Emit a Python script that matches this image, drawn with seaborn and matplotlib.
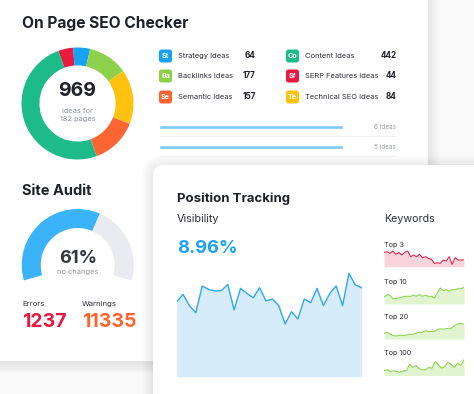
import numpy as np
import matplotlib
matplotlib.use("Agg")
import matplotlib.pyplot as plt
from matplotlib.patches import FancyBboxPatch
import seaborn as sns

W, H = 474, 394

# ring of the SEO checker donut, clockwise from the red slice (share of arc)
ring_names = ["SERP Features", "Strategy", "Backlinks", "Technical SEO", "Semantic", "Content"]
ring_share = [4.3, 4.9, 11.5, 15.8, 13.5, 50.0]
ring_colors = ["#E9193F", "#18A2F4", "#8DD04A", "#FFC20E", "#FF6533", "#1DBA8A"]
total_ideas = 969
total_pages = 182

# legend table
left_labels = ["Strategy Ideas", "Backlinks Ideas", "Semantic Ideas"]
left_abbr = ["St", "Ba", "Se"]
left_counts = [64, 177, 157]
left_colors = ["#18A2F4", "#8DD04A", "#FF6533"]
right_labels = ["Content Ideas", "SERP Features Ideas", "Technical SEO Ideas"]
right_abbr = ["Co", "Sf", "Te"]
right_counts = [442, 44, 84]
right_colors = ["#1DBA8A", "#E9193F", "#FFC20E"]

idea_bar_labels = ["6 Ideas", "5 Ideas"]
idea_bar_fill = [77.6, 77.6]

# site audit
audit_pct = 61
audit_errors = 1237
audit_warnings = 11335

# position tracking
visibility_pct = "8.96%"
visibility = [75, 82.3, 71, 64, 90.7, 87.3, 85.7, 86, 92.3, 66.7, 88.3, 83.3, 79, 89, 75.7,
              77.7, 71, 52.7, 65, 57.7, 77.7, 74, 88.3, 71, 83.3, 90.7, 71, 103.3, 91.7, 89]

kw_labels = ["Top 3", "Top 10", "Top 20", "Top 100"]
kw_top3 = [14.3, 15, 13.3, 15.7, 12.3, 14.3, 11.7, 14.3, 15.7, 10, 11.7, 10, 12.3, 9,
           10, 8.3, 7.3, 3.3, 4, 3.3, 6.7, 5.7, 10, 2.3, 9, 6.7, 6.7, 6.7]
kw_top10 = [6.7, 9.3, 8.7, 5.3, 5.3, 6, 6.7, 7.7, 7.7, 7.7, 8.7, 7.7, 9.3, 7.7,
            8.7, 7.7, 7.7, 6, 11, 16, 13.3, 14.3, 12.7, 14.3, 14.3, 15.3, 15.3, 16.7]
kw_top20 = [5.7, 6.7, 4.7, 3.3, 3, 4, 3.3, 4, 4.7, 4.7, 5.7, 6.7, 6.7,
            8.3, 7.3, 7.3, 8, 10, 10, 10, 10.7, 10.7, 13.3, 15, 15.7, 14.7]
kw_top100 = [5, 5.7, 4, 4.7, 4, 3.3, 4.7, 4.7, 11.3, 8, 10, 6.7, 5.7,
             5.7, 8, 7.3, 14, 10.7, 7.3, 9, 13.3, 11.3, 8, 12.3, 10, 15.7]

sns.set_theme(style="white")
plt.rcParams["font.family"] = ["Inter", "DejaVu Sans"]

DARK = "#1F2129"
GREY = "#8E939C"


def px_axes(fig, x0, y0, x1, y1):
    ax = fig.add_axes([x0 / W, 1 - y1 / H, (x1 - x0) / W, (y1 - y0) / H])
    ax.axis("off")
    return ax


def card(ax, x, y, w, h, r=10, z=1):
    # soft shadow made of stacked translucent boxes
    for i in range(7, 0, -1):
        g = i * 1.6
        ax.add_patch(FancyBboxPatch((x - g, y - g + 1.5), w + 2 * g, h + 2 * g,
                                    boxstyle=f"round,pad=0,rounding_size={r + g}",
                                    fc="black", ec="none", alpha=0.012, zorder=z))
    ax.add_patch(FancyBboxPatch((x, y), w, h, boxstyle=f"round,pad=0,rounding_size={r}",
                                fc="white", ec="none", zorder=z + 0.5))


fig = plt.figure(figsize=(W / 100, H / 100), dpi=100, facecolor="#FAFAFB")
bg = fig.add_axes([0, 0, 1, 1])
bg.set_xlim(0, W)
bg.set_ylim(H, 0)
bg.axis("off")

card(bg, -30, -30, 458, 391, z=1)
card(bg, 153, 165, 360, 260, z=3)

# ---- On Page SEO Checker ----
bg.text(22, 28, "On Page SEO Checker", fontsize=11.2, fontweight="bold", color=DARK, zorder=5)

dax = px_axes(fig, 21.5, 47.5, 133.5, 159.5)
dax.pie(ring_share, colors=ring_colors, startangle=110, counterclock=False,
        wedgeprops=dict(width=0.32, edgecolor="none"))
dax.set_xlim(-1, 1)
dax.set_ylim(-1, 1)
dax.set_aspect("equal")
dax.text(0, 0.13, str(total_ideas), ha="center", va="baseline", fontsize=14,
         fontweight="bold", color=DARK)
dax.text(0, -0.17, "ideas for", ha="center", va="baseline", fontsize=5.3, color=GREY)
dax.text(0, -0.31, f"{total_pages} pages", ha="center", va="baseline", fontsize=5.3, color=GREY)

rows_y = [56, 76, 97]
for col in [(159, 255.7, left_labels, left_abbr, left_counts, left_colors),
            (286, 396.5, right_labels, right_abbr, right_counts, right_colors)]:
    x0, xn, labels, abbr, counts, colors = col
    for yc, lab, ab, n, c in zip(rows_y, labels, abbr, counts, colors):
        bg.add_patch(FancyBboxPatch((x0, yc - 6.5), 13, 13,
                                    boxstyle="round,pad=0,rounding_size=2.5",
                                    fc=c, ec="none", zorder=5))
        bg.text(x0 + 6.5, yc + 0.3, ab, ha="center", va="center", fontsize=5.2,
                fontweight="bold", color="white", zorder=6)
        bg.text(x0 + 19.5, yc + 2.2, lab, fontsize=5.4, color="#2B2E36", zorder=5)
        bg.text(xn, yc + 2.2, str(n), ha="right", fontsize=5.9, fontweight="bold",
                color=DARK, zorder=5)

bax = px_axes(fig, 159, 116.7, 396, 156.7)
sns.barplot(x=idea_bar_fill, y=idea_bar_labels, orient="h", width=0.2,
            color="#7CC9FA", saturation=1, ax=bax)
bax.set_xlim(0, 100)
bax.set_ylim(1.5, -0.5)
bax.axis("off")
for yb, lab in zip([126.7, 146.7], idea_bar_labels):
    bg.text(396, yb, lab, ha="right", va="center", fontsize=4.6, color="#9A9FA8", zorder=5)
    bg.plot([159, 396], [yb + 9.5, yb + 9.5], color="#EEEFF2", lw=0.6, zorder=5)

# ---- Site Audit ----
bg.text(22, 195, "Site Audit", fontsize=10.5, fontweight="bold", color=DARK, zorder=5)

gauge_span = 212
gax = px_axes(fig, 21.7, 209, 133.7, 321)
gax.pie([audit_pct, 100 - audit_pct, 100 * (360 - gauge_span) / gauge_span],
        colors=["#3BB3F9", "#E9EBF0", "none"], startangle=196, counterclock=False,
        wedgeprops=dict(width=0.34, edgecolor="none"))
gax.set_xlim(-1, 1)
gax.set_ylim(-1, 1)
gax.set_aspect("equal")
bg.text(77.7, 263.3, f"{audit_pct}%", ha="center", fontsize=13, fontweight="bold",
        color="#33363D", zorder=5)
bg.text(77.7, 274, "no changes", ha="center", fontsize=5.3, color=GREY, zorder=5)

bg.text(22, 305.7, "Errors", fontsize=5.6, color="#2B2E36", zorder=5)
bg.text(81.7, 305.7, "Warnings", fontsize=5.6, color="#2B2E36", zorder=5)
bg.text(22, 326.7, str(audit_errors), fontsize=14, fontweight="bold", color="#E8173F", zorder=5)
bg.text(81.7, 326.7, str(audit_warnings), fontsize=14, fontweight="bold", color="#FF642D", zorder=5)

# ---- Position Tracking ----
bg.text(176.7, 201.7, "Position Tracking", fontsize=9.5, fontweight="bold", color=DARK, zorder=5)
bg.text(176.7, 221.7, "Visibility", fontsize=7.8, color="#2B2E36", zorder=5)
bg.text(176.7, 252.7, visibility_pct, fontsize=13.2, fontweight="bold", color="#1AA3F5", zorder=5)

aax = px_axes(fig, 176.7, 266.7, 361.7, 376.7)
xs = np.arange(len(visibility))
aax.fill_between(xs, visibility, color="#D6ECFA", lw=0)
sns.lineplot(x=xs, y=visibility, ax=aax, color="#2EA7EE", lw=1.0)
aax.set_xlim(0, len(visibility) - 1)
aax.set_ylim(0, 110)
aax.axis("off")

bg.text(384, 221.7, "Keywords", fontsize=7.7, color="#2B2E36", zorder=5)
kw_series = [kw_top3, kw_top10, kw_top20, kw_top100]
kw_base = [266.7, 304, 339, 375.5]
kw_line = ["#E31C45", "#8BD14A", "#8BD14A", "#8BD14A"]
kw_fill = ["#FAD4DC", "#E1F4D0", "#E1F4D0", "#E1F4D0"]
for lab, vals, base, lc, fc in zip(kw_labels, kw_series, kw_base, kw_line, kw_fill):
    bg.text(384, base - 20, lab, fontsize=5.2, color="#2B2E36", zorder=5)
    sax = px_axes(fig, 384, base - 18, 464, base)
    x = np.arange(len(vals))
    sax.fill_between(x, vals, color=fc, lw=0)
    sns.lineplot(x=x, y=vals, ax=sax, color=lc, lw=0.75)
    sax.set_xlim(0, len(vals) - 1)
    sax.set_ylim(0, 18)
    sax.axis("off")

fig.savefig("out.png", dpi=100, facecolor=fig.get_facecolor())
